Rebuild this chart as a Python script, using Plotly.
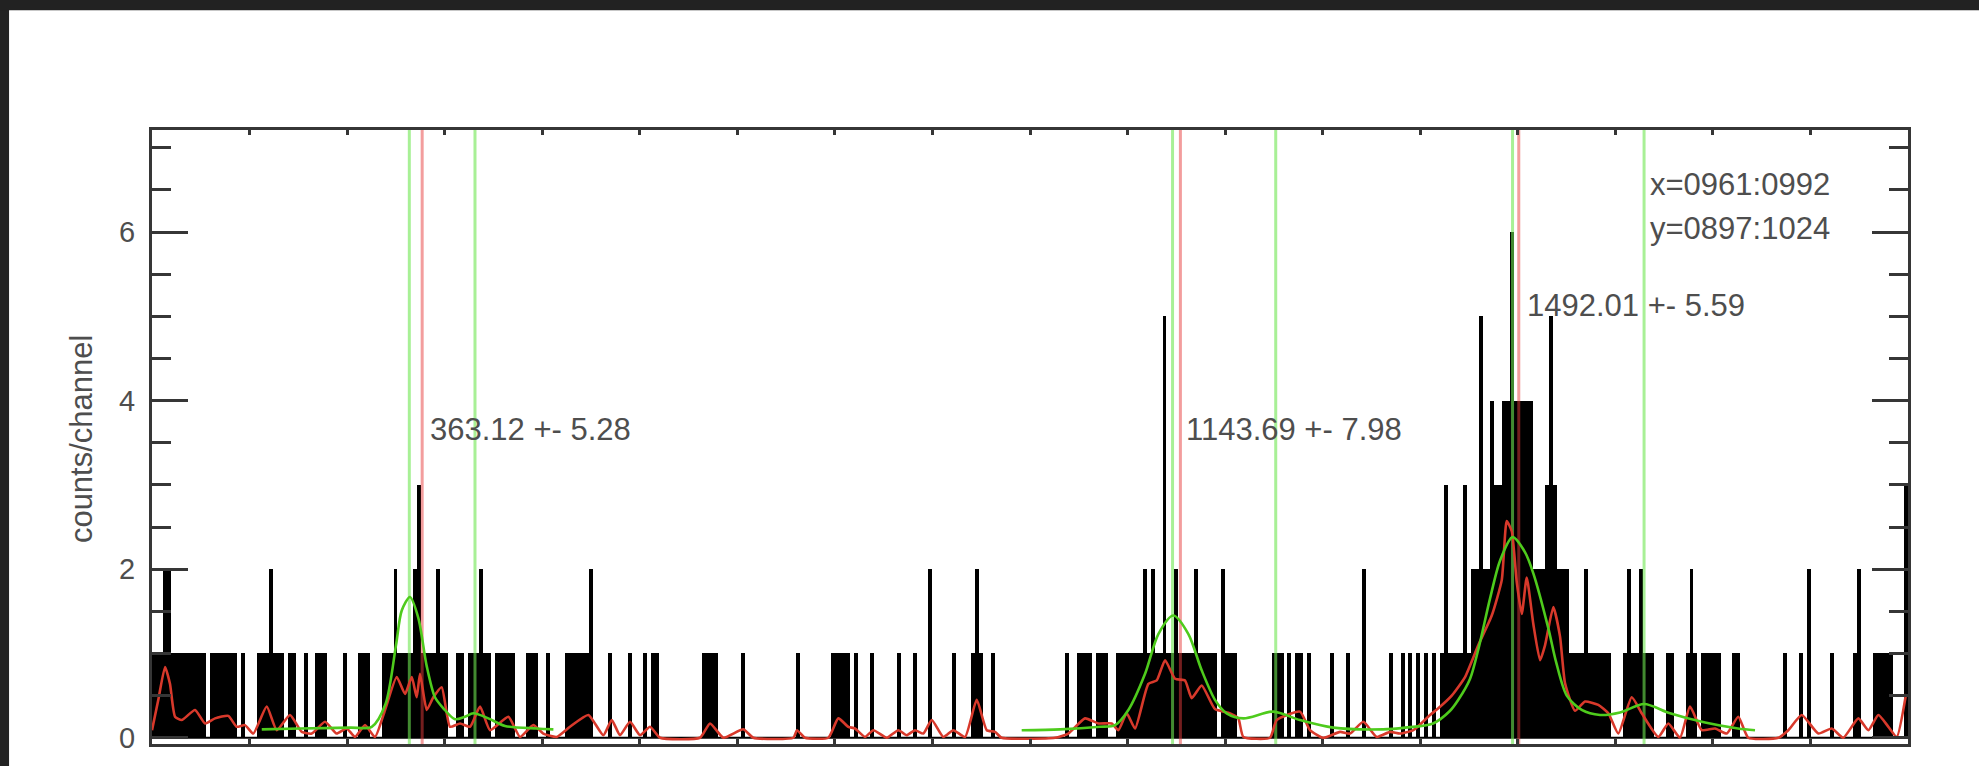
import numpy as np
import plotly.graph_objects as go

# ---------------- data ----------------
# Energy histogram: counts per channel bin, 25 bins per major division
bin_start = 84.5
bin_width = 4.0185
counts = [
    1, 1, 1, 2, 2, 1, 1, 1, 1, 1, 1, 1, 1, 1, 0, 1, 1, 1, 1, 1, 1, 1, 0, 1, 0,
    0, 0, 1, 1, 1, 2, 1, 1, 1, 0, 1, 1, 0, 0, 1, 0, 0, 1, 1, 1, 0, 0, 0, 0, 1,
    0, 0, 0, 1, 1, 1, 0, 0, 0, 1, 1, 1, 2, 1, 1, 1, 1, 2, 3, 1, 1, 1, 1, 2, 1,
    1, 0, 0, 1, 1, 0, 1, 1, 1, 2, 1, 1, 0, 1, 1, 1, 1, 1, 0, 0, 0, 1, 1, 1, 0,
    0, 1, 0, 0, 0, 0, 1, 1, 1, 1, 1, 1, 2, 0, 0, 0, 0, 1, 0, 0, 0, 0, 1, 0, 0,
    0, 1, 0, 1, 1, 0, 0, 0, 0, 0, 0, 0, 0, 0, 0, 0, 1, 1, 1, 1, 0, 0, 0, 0, 0,
    0, 1, 0, 0, 0, 0, 0, 0, 0, 0, 0, 0, 0, 0, 0, 1, 0, 0, 0, 0, 0, 0, 0, 0, 1,
    1, 1, 1, 1, 0, 1, 0, 0, 0, 1, 0, 0, 0, 0, 0, 0, 1, 0, 0, 0, 1, 0, 0, 0, 2,
    0, 0, 0, 0, 0, 1, 0, 0, 0, 0, 1, 2, 1, 0, 0, 1, 0, 0, 0, 0, 0, 0, 0, 0, 0,
    0, 0, 0, 0, 0, 0, 0, 0, 0, 1, 0, 0, 1, 1, 1, 1, 0, 1, 1, 1, 0, 0, 1, 1, 1,
    1, 1, 1, 1, 2, 1, 2, 1, 1, 5, 1, 1, 2, 1, 1, 1, 1, 2, 1, 1, 1, 1, 1, 0, 2,
    1, 1, 1, 0, 0, 0, 0, 0, 0, 0, 0, 0, 1, 1, 1, 0, 1, 0, 1, 1, 0, 1, 0, 0, 0,
    0, 0, 1, 0, 0, 0, 1, 0, 0, 0, 2, 0, 0, 0, 0, 0, 0, 1, 0, 0, 1, 0, 1, 0, 1,
    0, 1, 0, 1, 0, 1, 3, 1, 1, 1, 1, 3, 1, 2, 2, 5, 2, 2, 4, 3, 3, 4, 4, 6, 4,
    4, 4, 4, 4, 2, 2, 2, 3, 5, 3, 2, 2, 2, 1, 1, 1, 1, 2, 1, 1, 1, 1, 1, 1, 0,
    0, 0, 1, 2, 1, 1, 2, 1, 1, 1, 0, 0, 0, 1, 1, 0, 0, 0, 1, 2, 1, 0, 1, 1, 1,
    1, 1, 0, 0, 0, 1, 1, 0, 0, 0, 0, 0, 0, 0, 0, 0, 0, 0, 1, 0, 0, 0, 1, 0, 2,
    0, 0, 0, 0, 0, 1, 0, 0, 0, 0, 0, 1, 2, 0, 0, 0, 1, 1, 1, 1, 1, 0, 0, 0, 3,
]

# Smoothed spectrum (energy, counts/channel)
smoothed = [
    (85.0, 0.09), (91.5, 0.45), (98.4, 0.84), (103.5, 0.64), (108.7, 0.25),
    (115.6, 0.21), (129.3, 0.33), (139.6, 0.17), (149.9, 0.23), (163.6, 0.26),
    (172.2, 0.13), (180.7, 0.15), (189.3, 0.05), (203.1, 0.37), (213.4, 0.09),
    (227.1, 0.27), (239.1, 0.07), (249.4, 0.05), (263.1, 0.19), (275.1, 0.05),
    (285.4, 0.11), (294.0, 0.01), (304.3, 0.15), (314.6, 0.01), (324.9, 0.33),
    (336.9, 0.72), (345.5, 0.52), (352.4, 0.72), (357.5, 0.48), (360.9, 0.76),
    (367.8, 0.33), (374.6, 0.48), (383.2, 0.60), (391.8, 0.13), (402.1, 0.17),
    (412.4, 0.13), (422.7, 0.37), (433.0, 0.09), (451.8, 0.25), (463.9, 0.01),
    (477.5, 0.15), (487.8, 0.05), (501.6, 0.01), (515.3, 0.13), (534.2, 0.27),
    (549.6, 0.03), (558.3, 0.21), (566.8, 0.03), (577.1, 0.19), (587.4, 0.03),
    (597.7, 0.13), (608.0, 0.0), (649.1, 0.0), (659.5, 0.17), (673.2, 0.0),
    (693.7, 0.10), (704.0, 0.0), (745.2, 0.0), (749.0, 0.09), (757.3, 0.0),
    (781.2, 0.0), (791.5, 0.23), (801.8, 0.13), (808.7, 0.11), (819.0, 0.01),
    (827.6, 0.09), (841.4, 0.0), (853.3, 0.09), (861.9, 0.03), (870.5, 0.09),
    (879.0, 0.05), (887.7, 0.21), (899.6, 0.01), (909.9, 0.09), (922.0, 0.01),
    (934.0, 0.45), (944.3, 0.09), (952.8, 0.07), (959.7, 0.0), (1014.6, 0.0),
    (1028.3, 0.05), (1045.5, 0.23), (1059.2, 0.17), (1073.0, 0.17), (1079.8, 0.09),
    (1088.4, 0.29), (1097.0, 0.11), (1110.7, 0.64), (1119.3, 0.68), (1127.9, 0.92),
    (1138.2, 0.70), (1148.4, 0.68), (1155.3, 0.47), (1165.6, 0.62), (1179.3, 0.34),
    (1194.8, 0.29), (1203.3, 0.23), (1208.5, 0.01), (1235.9, 0.0), (1242.8, 0.21),
    (1266.8, 0.31), (1277.1, 0.09), (1290.8, 0.0), (1308.0, 0.07), (1318.3, 0.05),
    (1332.0, 0.19), (1345.8, 0.01), (1359.5, 0.07), (1369.8, 0.05), (1383.5, 0.09),
    (1400.7, 0.27), (1409.2, 0.35), (1423.0, 0.50), (1436.7, 0.72), (1450.4, 1.10),
    (1464.2, 1.45), (1474.5, 1.87), (1479.6, 2.57), (1484.8, 2.45), (1489.9, 1.85),
    (1495.1, 1.47), (1500.2, 1.90), (1507.0, 1.35), (1513.9, 0.92), (1519.1, 1.10),
    (1527.6, 1.55), (1534.5, 1.20), (1539.6, 0.65), (1549.9, 0.32), (1560.2, 0.43),
    (1573.9, 0.39), (1584.2, 0.29), (1594.5, 0.05), (1608.3, 0.48), (1618.6, 0.29),
    (1635.7, 0.01), (1646.0, 0.17), (1658.0, 0.0), (1668.3, 0.37), (1680.4, 0.09),
    (1694.1, 0.11), (1706.1, 0.05), (1718.0, 0.25), (1728.3, 0.0), (1759.2, 0.0),
    (1769.5, 0.09), (1783.3, 0.27), (1800.4, 0.05), (1814.2, 0.11), (1826.1, 0.0),
    (1841.6, 0.23), (1851.9, 0.09), (1862.2, 0.27), (1872.5, 0.13), (1881.1, 0.01),
    (1890.7, 0.52),
]

# Fitted line-profile models (energy, counts/channel)
fit_low = [
    (198.0, 0.10), (237.4, 0.11), (288.9, 0.12), (311.2, 0.13), (325.4, 0.40),
    (336.2, 1.10), (342.1, 1.51), (350.6, 1.67), (359.2, 1.42), (367.8, 0.85),
    (376.3, 0.48), (384.9, 0.35), (396.9, 0.22), (407.2, 0.25), (415.8, 0.29),
    (431.2, 0.23), (448.4, 0.14), (481.0, 0.11), (498.2, 0.10),
]
fit_high = [
    (980.3, 0.09), (1019.8, 0.10), (1060.9, 0.13), (1076.4, 0.15), (1090.1, 0.33),
    (1107.3, 0.76), (1121.0, 1.23), (1136.4, 1.45), (1151.9, 1.23), (1165.6, 0.80),
    (1179.3, 0.45), (1191.3, 0.29), (1208.5, 0.23), (1239.4, 0.31), (1266.8, 0.21),
    (1301.1, 0.12), (1352.3, 0.10), (1375.0, 0.12), (1403.8, 0.17), (1421.3, 0.32),
    (1429.8, 0.45), (1441.9, 0.70), (1450.4, 1.05), (1462.4, 1.65), (1472.7, 2.10),
    (1485.6, 2.38), (1498.5, 2.20), (1507.0, 1.95), (1522.4, 1.30), (1530.4, 0.90),
    (1541.4, 0.50), (1556.8, 0.33), (1575.7, 0.27), (1596.3, 0.30), (1621.0, 0.40),
    (1647.7, 0.29), (1683.8, 0.18), (1717.7, 0.11), (1735.2, 0.09),
]

# Fit component centres and measured line energies
component_centres = [349.9, 417.5, 1135.6, 1241.8, 1485.6, 1621.0]
peak_energy = [363.12, 1143.69, 1492.01]
peak_error = [5.28, 7.98, 5.59]
peak_label_pos = [(369.5, 3.66), (1147.0, 3.66), (1498.0, 5.13)]

region_text = ["x=0961:0992", "y=0897:1024"]
region_text_pos = [(1625.0, 6.56), (1625.0, 6.04)]

# ---------------- figure ----------------
X_RANGE = [85.0, 1892.7]
Y_RANGE = [-0.074, 7.21]
FONT = "Liberation Sans, Arial, Helvetica, sans-serif"
TEXT_COLOR = "#4e4e4e"
AXIS_COLOR = "#363636"

n = len(counts)
centres = bin_start + (np.arange(n) + 0.5) * bin_width
edges_lo, edges_hi = bin_start, bin_start + n * bin_width

fig = go.Figure()

# histogram
fig.add_trace(go.Bar(
    x=centres, y=counts, width=bin_width,
    marker=dict(color="black", line=dict(width=0)),
    hoverinfo="skip",
))
# histogram baseline at zero counts
fig.add_trace(go.Scatter(
    x=[edges_lo, edges_hi], y=[0, 0], mode="lines",
    line=dict(color="black", width=2), hoverinfo="skip",
))

# component centre markers (green) and line energies (red)
for c in component_centres:
    fig.add_trace(go.Scatter(
        x=[c, c], y=Y_RANGE, mode="lines",
        line=dict(color="rgba(110,230,80,0.6)", width=3), hoverinfo="skip",
    ))
for e in peak_energy:
    fig.add_trace(go.Scatter(
        x=[e, e], y=Y_RANGE, mode="lines",
        line=dict(color="rgba(232,60,60,0.5)", width=3), hoverinfo="skip",
    ))

# smoothed spectrum
fig.add_trace(go.Scatter(
    x=[p[0] for p in smoothed], y=[p[1] for p in smoothed], mode="lines",
    line=dict(color="#d8392b", width=2.6, shape="spline", smoothing=0.5),
    hoverinfo="skip",
))

# fitted models
for model in (fit_low, fit_high):
    fig.add_trace(go.Scatter(
        x=[p[0] for p in model], y=[p[1] for p in model], mode="lines",
        line=dict(color="#4ecb1c", width=2.6, shape="spline", smoothing=0.8),
        hoverinfo="skip",
    ))

annotations = []
for e, err, (ax, ay) in zip(peak_energy, peak_error, peak_label_pos):
    annotations.append(dict(
        x=ax, y=ay, xref="x", yref="y", text=f"{e:.2f} +- {err:.2f}",
        showarrow=False, xanchor="left", yanchor="middle",
        font=dict(family=FONT, size=31, color=TEXT_COLOR),
    ))
for t, (ax, ay) in zip(region_text, region_text_pos):
    annotations.append(dict(
        x=ax, y=ay, xref="x", yref="y", text=t,
        showarrow=False, xanchor="left", yanchor="middle",
        font=dict(family=FONT, size=31, color=TEXT_COLOR),
    ))
# y-axis title
annotations.append(dict(
    x=-0.0405, y=0.498, xref="paper", yref="paper", text="counts/channel",
    showarrow=False, textangle=-90, xanchor="center", yanchor="middle",
    font=dict(family=FONT, size=31, color=TEXT_COLOR),
))

# dark surround along the top and left of the page
shapes = [
    dict(type="rect", xref="paper", yref="paper", x0=-0.2, x1=-0.0814,
         y0=-0.2, y1=1.3, fillcolor="#222222", line=dict(width=0), layer="above"),
    dict(type="rect", xref="paper", yref="paper", x0=-0.2, x1=1.2,
         y0=1.195, y1=1.3, fillcolor="#222222", line=dict(width=0), layer="above"),
]

fig.update_layout(
    width=1979, height=766, autosize=False,
    margin=dict(l=152, r=71, t=130, b=18, pad=0),
    paper_bgcolor="white", plot_bgcolor="white",
    showlegend=False, bargap=0,
    font=dict(family=FONT, size=29, color=TEXT_COLOR),
    annotations=annotations, shapes=shapes,
    xaxis=dict(
        range=X_RANGE, showgrid=False, zeroline=False,
        showline=True, linecolor=AXIS_COLOR, linewidth=3, mirror="ticks",
        ticks="inside", ticklen=5, tickwidth=3, tickcolor=AXIS_COLOR,
        tickmode="linear", tick0=X_RANGE[0], dtick=(X_RANGE[1] - X_RANGE[0]) / 18,
        showticklabels=False,
    ),
    yaxis=dict(
        range=Y_RANGE, showgrid=False, zeroline=False,
        showline=True, linecolor=AXIS_COLOR, linewidth=3, mirror="ticks",
        ticks="inside", ticklen=36, tickwidth=3, tickcolor=AXIS_COLOR,
        tickvals=[0, 2, 4, 6], ticktext=["0", "2", "4", "6"],
        tickfont=dict(family=FONT, size=29, color=TEXT_COLOR),
        ticklabelstandoff=8,
        minor=dict(dtick=0.5, tick0=0, ticks="inside", ticklen=19,
                   tickwidth=3, tickcolor=AXIS_COLOR, showgrid=False),
    ),
)

fig.write_html("out.html")
